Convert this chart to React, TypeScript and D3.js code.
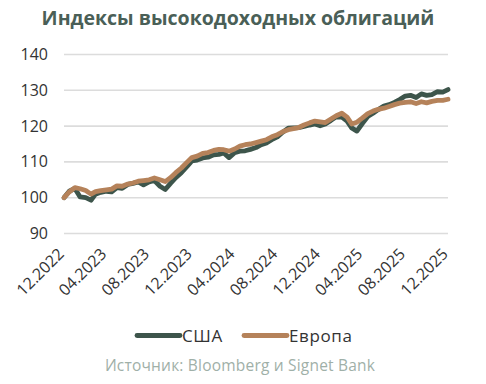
import React from "react";
import * as d3 from "d3";

const usValues = [
  100, 101.8, 102.6, 100.2, 100, 99.3, 101, 101.5, 101.8, 101.6, 102.8, 102.6, 103.7, 104, 104.4, 103.6,
  104.4, 104.8, 103.2, 102.3, 104, 105.6, 107, 108.6, 110.3, 110.5, 111.1, 111.3, 112, 112.1, 112.5, 111.2,
  112.6, 113, 113.1, 113.5, 114, 114.8, 115.3, 116.2, 117, 118.3, 119.4, 119.5, 119.6, 119.9, 120.3, 120.6,
  120.1, 120.6, 121.6, 122.6, 122.5, 121.4, 119.5, 118.6, 120.8, 122.7, 123.6, 124.6, 125.6, 126, 126.6,
  127.4, 128.4, 128.6, 128, 129, 128.6, 128.8, 129.6, 129.5, 130.2,
];
const euValues = [
  100, 101.6, 102.8, 102.5, 102, 101, 101.7, 102, 102.2, 102.4, 103.3, 103.2, 103.8, 104.1, 104.6, 104.8,
  105, 105.5, 105, 104.5, 105.6, 107, 108.3, 109.8, 111.2, 111.6, 112.4, 112.6, 113.2, 113.5, 113.4, 113,
  113.6, 114.4, 114.8, 115, 115.4, 115.8, 116.2, 117, 117.6, 118.4, 119, 119.3, 119.6, 120.3, 120.9, 121.4,
  121.2, 121, 122, 122.9, 123.6, 122.5, 120.6, 121.1, 122.3, 123.5, 124.2, 124.7, 125, 125.5, 126, 126.4,
  126.6, 126.8, 126.3, 126.8, 126.5, 126.9, 127.2, 127.2, 127.5,
];
const dates = usValues.map((_, i) => new Date(Date.UTC(2022, 11 + Math.floor(i / 2), i % 2 ? 16 : 1)));
const yTicks = [90, 100, 110, 120, 130, 140];
const xTickDates = d3.range(0, 37, 4).map((m) => new Date(Date.UTC(2022, 11 + m, 1)));
const seriesNames = ["США", "Европа"];
const seriesColors = ["#3d554b", "#b5825a"];
const title = "Индексы высокодоходных облигаций";
const source = "Источник: Bloomberg и Signet Bank";

export default function App() {
  const W = 486, H = 384;
  const x = d3.scaleUtc().domain([dates[0], dates[dates.length - 1]]).range([64, 448]);
  const y = d3.scaleLinear().domain([90, 140]).range([233.5, 54.5]);
  const line = d3.line<number>().x((_, i) => x(dates[i])).y((v) => y(v)).curve(d3.curveLinear);
  const fmt = d3.utcFormat("%m.%Y");
  const font = "'Open Sans', sans-serif";
  const series = [usValues, euValues];
  return (
    <svg width={W} height={H} style={{ position: "absolute", left: 0, top: 0 }} fontFamily={font}>
      <rect width={W} height={H} fill="#fff" />
      <text x={238} y={25} textAnchor="middle" fontSize={19.5} fontWeight={700} fill="#4a5f57">{title}</text>
      {yTicks.map((t) => (
        <g key={t}>
          <line x1={64} x2={448} y1={y(t)} y2={y(t)} stroke="#dcdcdc" strokeWidth={1.6} />
          <text x={48} y={y(t) + 5.5} textAnchor="end" fontSize={16} fill="#333">{t}</text>
        </g>
      ))}
      {series.map((vals, k) => (
        <path key={k} d={line(vals) || ""} fill="none" stroke={seriesColors[k]} strokeWidth={4.8}
          strokeLinejoin="round" strokeLinecap="round" />
      ))}
      {xTickDates.map((d, i) => (
        <text key={i} transform={`translate(${x(d) + 1},${255}) rotate(-45)`} textAnchor="end" fontSize={16} fill="#333">
          {fmt(d)}
        </text>
      ))}
      {seriesNames.map((n, k) => {
        const lx = k === 0 ? 137 : 244;
        return (
          <g key={n}>
            <line x1={lx} x2={lx + 43} y1={335.5} y2={335.5} stroke={seriesColors[k]} strokeWidth={4.8} strokeLinecap="round" />
            <text x={lx + 45} y={341.5} fontSize={17} letterSpacing={0.6} fill="#333">{n}</text>
          </g>
        );
      })}
      <text x={240} y={371} textAnchor="middle" fontSize={15.5} letterSpacing={0.2} fill="#9fb0a8">{source}</text>
    </svg>
  );
}
